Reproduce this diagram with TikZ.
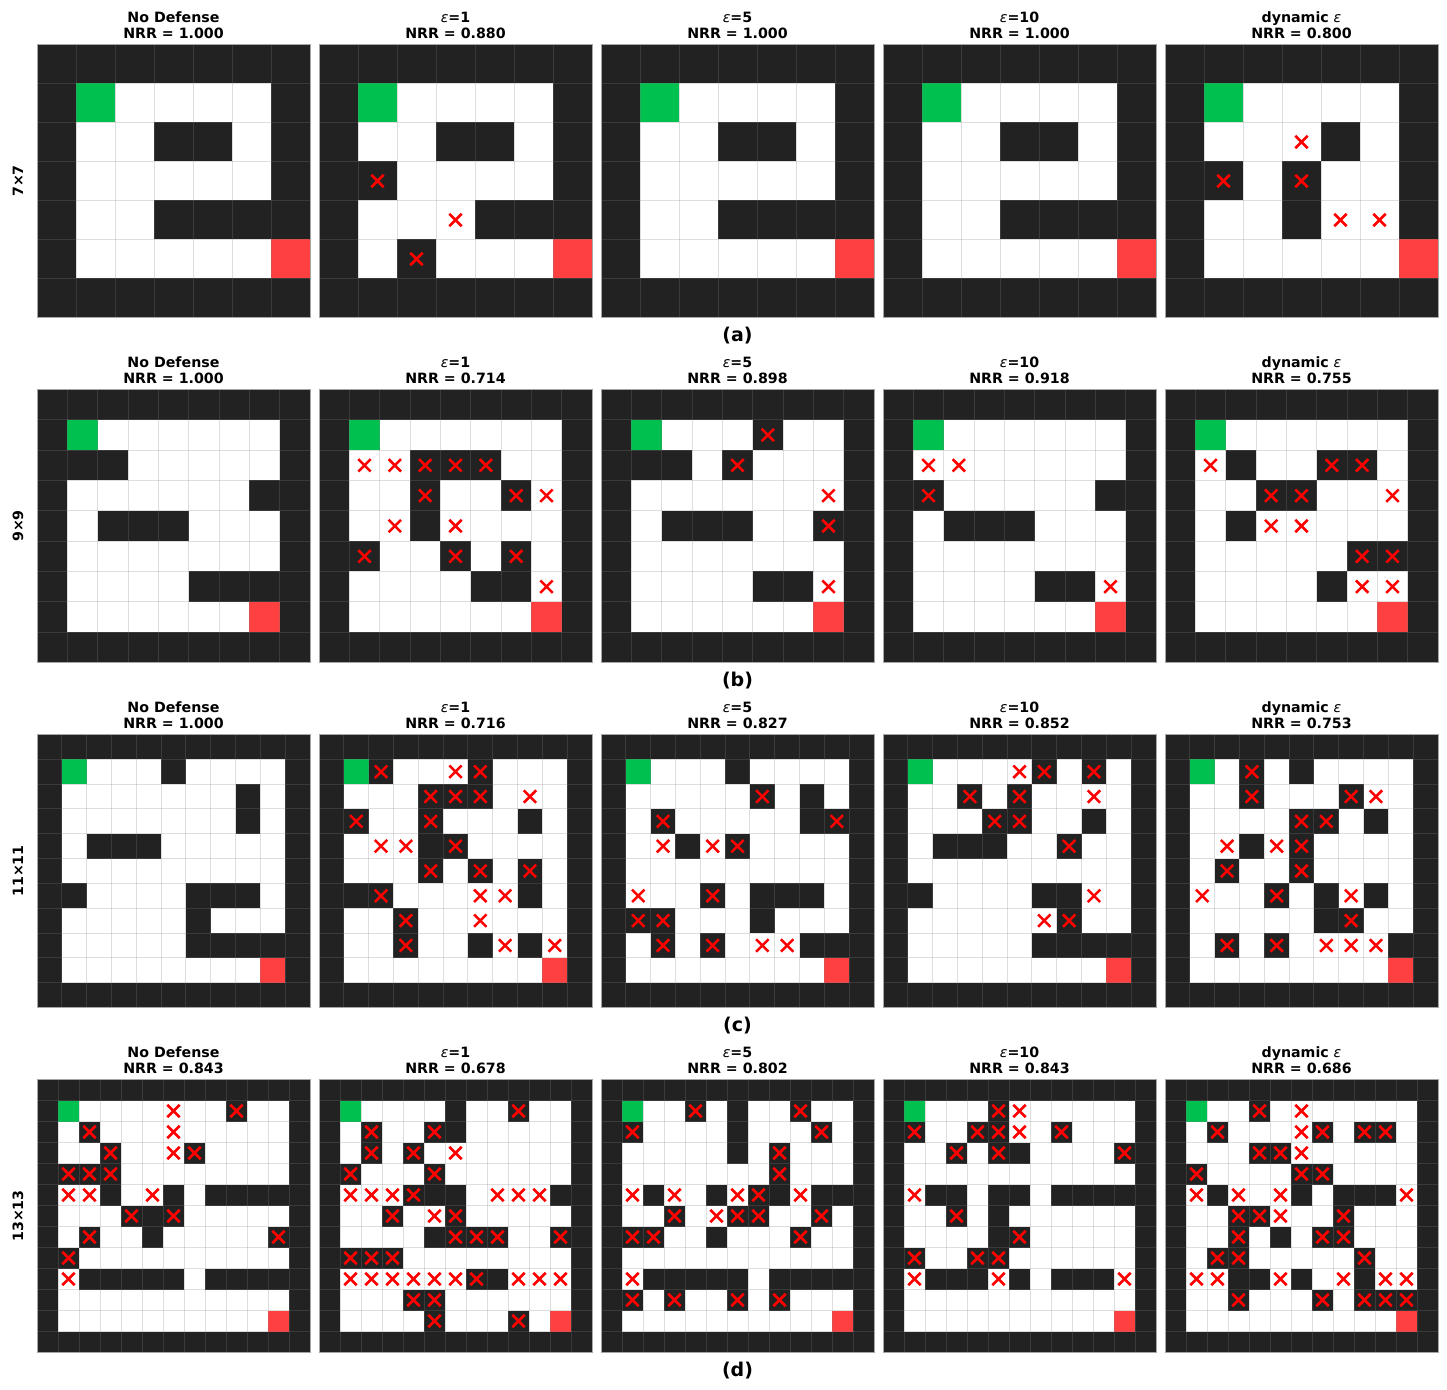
\documentclass[tikz,border=0pt]{standalone}
\usepackage{fontspec}
\setmainfont{DejaVu Sans}
\definecolor{wallc}{RGB}{34,34,34}
\definecolor{startc}{RGB}{0,192,80}
\definecolor{goalc}{RGB}{255,64,64}
\definecolor{xred}{RGB}{255,0,0}
\definecolor{gridc}{RGB}{128,128,128}
\tikzset{
  gridl/.style={draw=gridc, opacity=0.26, line width=0.5pt},
  panelbox/.style={draw=gridc!70, line width=0.5pt},
  xmk/.style={draw=xred, line width=1.25pt},
  ttl/.style={font=\bfseries\fontsize{7.1}{8.5}\selectfont, anchor=base, inner sep=0pt},
  rowl/.style={font=\bfseries\fontsize{7.1}{8.5}\selectfont, inner sep=0pt, rotate=90},
  capl/.style={font=\bfseries\fontsize{9.5}{11}\selectfont, inner sep=0pt}
}
\newcount\mzc
\def\mzparse#1{%
  \ifx#1\relax\else
    \mzdraw#1%
    \global\advance\mzc by 1\relax
    \expandafter\mzparse
  \fi}
\def\mzmark{\draw[xmk] (\the\mzc+0.5,\ri+0.5) +(-3.1pt,-3.1pt) -- +(3.1pt,3.1pt) +(-3.1pt,3.1pt) -- +(3.1pt,-3.1pt);}
\def\mzdraw#1{%
  \if#1W\fill[wallc] (\the\mzc,\ri) rectangle ++(1,1);\fi
  \if#1X\fill[wallc] (\the\mzc,\ri) rectangle ++(1,1);\fi
  \if#1S\fill[startc] (\the\mzc,\ri) rectangle ++(1,1);\fi
  \if#1G\fill[goalc] (\the\mzc,\ri) rectangle ++(1,1);\fi}
\def\mzmarks#1{%
  \ifx#1\relax\else
    \if#1X\mzmark\fi
    \if#1x\mzmark\fi
    \global\advance\mzc by 1\relax
    \expandafter\mzmarks
  \fi}
\newcommand\mazepanel[4]{%
  \pgfmathsetmacro\mzs{136.5/#3}%
  \begin{scope}[shift={(#1,#2)},x=\mzs pt,y=-\mzs pt]
    \fill[white] (0,0) rectangle (#3,#3);
    \foreach \rowstr [count=\ri from 0] in {#4}{%
      \global\mzc=0\relax
      \expandafter\mzparse\rowstr\relax}
    \foreach \k in {0,...,#3}{%
      \draw[gridl] (\k,0) -- (\k,#3);
      \draw[gridl] (0,\k) -- (#3,\k);}
    \foreach \rowstr [count=\ri from 0] in {#4}{%
      \global\mzc=0\relax
      \expandafter\mzmarks\rowstr\relax}
    \draw[panelbox] (0,0) rectangle (#3,#3);
  \end{scope}}
% #1 row letter (node-name prefix), #2 y offset, #3..#7 NRR values
\newcommand\rowtitles[7]{%
  \node[ttl] (#1nd1) at (173.5,22.7+#2) {No Defense};
  \node[ttl] (#1nd2) at (173.5,38.7+#2) {NRR = #3};
  \node[ttl] (#1ea1) at (455.5,22.7+#2) {{\mdseries\itshape ε}=1};
  \node[ttl] (#1ea2) at (455.5,38.7+#2) {NRR = #4};
  \node[ttl] (#1eb1) at (737.5,22.7+#2) {{\mdseries\itshape ε}=5};
  \node[ttl] (#1eb2) at (737.5,38.7+#2) {NRR = #5};
  \node[ttl] (#1ec1) at (1019.5,22.7+#2) {{\mdseries\itshape ε}=10};
  \node[ttl] (#1ec2) at (1019.5,38.7+#2) {NRR = #6};
  \node[ttl] (#1dy1) at (1301.5,22.7+#2) {dynamic {\mdseries\itshape ε}};
  \node[ttl] (#1dy2) at (1301.5,38.7+#2) {NRR = #7};}
\begin{document}
\begin{tikzpicture}[x=0.5pt,y=-0.5pt]
\useasboundingbox (0,0) rectangle (1447,1390);
\fill[white] (0,0) rectangle (1447,1390);
% ---------- (a) 7x7 ----------
\mazepanel{37}{44.5}{7}{WWWWWWW,WSooooW,WooWWoW,WoooooW,WooWWWW,WoooooG,WWWWWWW}
\mazepanel{319}{44.5}{7}{WWWWWWW,WSooooW,WooWWoW,WXooooW,WooxWWW,WoXoooG,WWWWWWW}
\mazepanel{601}{44.5}{7}{WWWWWWW,WSooooW,WooWWoW,WoooooW,WooWWWW,WoooooG,WWWWWWW}
\mazepanel{883}{44.5}{7}{WWWWWWW,WSooooW,WooWWoW,WoooooW,WooWWWW,WoooooG,WWWWWWW}
\mazepanel{1165}{44.5}{7}{WWWWWWW,WSooooW,WooxWoW,WXoXooW,WooWxxW,WoooooG,WWWWWWW}
\rowtitles{a}{0}{1.000}{0.880}{1.000}{1.000}{0.800}
\node[rowl] (ra) at (18,181) {7×7};
\node[capl] (ca) at (737.5,336) {(a)};
% ---------- (b) 9x9 ----------
\mazepanel{37}{389.5}{9}{WWWWWWWWW,WSooooooW,WWWoooooW,WooooooWW,WoWWWoooW,WoooooooW,WooooWWWW,WooooooGW,WWWWWWWWW}
\mazepanel{319}{389.5}{9}{WWWWWWWWW,WSooooooW,WxxXXXooW,WooXooXxW,WoxWxoooW,WXooXoXoW,WooooWWxW,WooooooGW,WWWWWWWWW}
\mazepanel{601}{389.5}{9}{WWWWWWWWW,WSoooXooW,WWWoXoooW,WooooooxW,WoWWWooXW,WoooooooW,WooooWWxW,WooooooGW,WWWWWWWWW}
\mazepanel{883}{389.5}{9}{WWWWWWWWW,WSooooooW,WxxoooooW,WXoooooWW,WoWWWoooW,WoooooooW,WooooWWxW,WooooooGW,WWWWWWWWW}
\mazepanel{1165}{389.5}{9}{WWWWWWWWW,WSooooooW,WxWooXXoW,WooXXooxW,WoWxxoooW,WoooooXXW,WooooWxxW,WooooooGW,WWWWWWWWW}
\rowtitles{b}{345}{1.000}{0.714}{0.898}{0.918}{0.755}
\node[rowl] (rb) at (18,526) {9×9};
\node[capl] (cb) at (737.5,681) {(b)};
% ---------- (c) 11x11 ----------
\mazepanel{37}{734.5}{11}{WWWWWWWWWWW,WSoooWooooW,WoooooooWoW,WoooooooWoW,WoWWWoooooW,WoooooooooW,WWooooWWWoW,WoooooWoooW,WoooooWWWWW,WooooooooGW,WWWWWWWWWWW}
\mazepanel{319}{734.5}{11}{WWWWWWWWWWW,WSXooxXoooW,WoooXXXoxoW,WXooXoooWoW,WoxxWXooooW,WoooXoXoXoW,WWXoooxxWoW,WooXooxoooW,WooXooWxWxW,WooooooooGW,WWWWWWWWWWW}
\mazepanel{601}{734.5}{11}{WWWWWWWWWWW,WSoooWooooW,WoooooXoWoW,WoXoooooWXW,WoxWxXooooW,WoooooooooW,WxooXoWWWoW,WXXoooWoooW,WoXoXoxxWWW,WooooooooGW,WWWWWWWWWWW}
\mazepanel{883}{734.5}{11}{WWWWWWWWWWW,WSoooxXoXoW,WooXoXooxoW,WoooXXooWoW,WoWWWooXooW,WoooooooooW,WWooooWWxoW,WoooooxXooW,WoooooWWWWW,WooooooooGW,WWWWWWWWWWW}
\mazepanel{1165}{734.5}{11}{WWWWWWWWWWW,WSoXoWooooW,WooXoooXxoW,WooooXXoWoW,WoxWxXooooW,WoXooXooooW,WxooXoWxWoW,WoooooWXooW,WoXoXoxxxWW,WooooooooGW,WWWWWWWWWWW}
\rowtitles{c}{690}{1.000}{0.716}{0.827}{0.852}{0.753}
\node[rowl] (rc) at (18,871) {11×11};
\node[capl] (cc) at (737.5,1026) {(c)};
% ---------- (d) 13x13 ----------
\mazepanel{37}{1079.5}{13}{WWWWWWWWWWWWW,WSooooxooXooW,WoXoooxoooooW,WooXooxXooooW,WXXXooooooooW,WxxWoxWoWWWWW,WoooXWXoooooW,WoXooWoooooXW,WXooooooooooW,WxWWWWWoWWWWW,WoooooooooooW,WooooooooooGW,WWWWWWWWWWWWW}
\mazepanel{319}{1079.5}{13}{WWWWWWWWWWWWW,WSooooWooXooW,WoXooXWoooooW,WoXoXoxoooooW,WXoooXooooooW,WxxxXWWoxxxWW,WooXoxXoooooW,WooooWXXXooXW,WXXXooooooooW,WxxxxxxXWxxxW,WoooXXooooooW,WooooXoooXoGW,WWWWWWWWWWWWW}
\mazepanel{601}{1079.5}{13}{WWWWWWWWWWWWW,WSooXoWooXooW,WXooooWoooXoW,WoooooWoXoooW,WoooooooXoooW,WxWxoWxXWxWWW,WooXoxXXooXoW,WXXooWoooXooW,WoooooooooooW,WxWWWWWoWWWWW,WXoXooXoXoooW,WooooooooooGW,WWWWWWWWWWWWW}
\mazepanel{883}{1079.5}{13}{WWWWWWWWWWWWW,WSoooXxoooooW,WXooXXxoXoooW,WooXoXWooooXW,WoooooooooooW,WxWWoWWoWWWWW,WooXoWooooooW,WooooWXoooooW,WXooXXooooooW,WxWWWxWoWWWxW,WoooooooooooW,WooooooooooGW,WWWWWWWWWWWWW}
\mazepanel{1165}{1079.5}{13}{WWWWWWWWWWWWW,WSooXoxoooooW,WoXoooxXoXXoW,WoooXXxoooooW,WXooooXXooooW,WxWxoxWoWWWxW,WooXXxooXoooW,WooXoWoXXoooW,WoXXoooooXooW,WxxWWxWoxWxxW,WooXoooXoXXXW,WooooooooooGW,WWWWWWWWWWWWW}
\rowtitles{d}{1035}{0.843}{0.678}{0.802}{0.843}{0.686}
\node[rowl] (rd) at (18,1216) {13×13};
\node[capl] (cd) at (737.5,1371) {(d)};
\end{tikzpicture}
\end{document}
